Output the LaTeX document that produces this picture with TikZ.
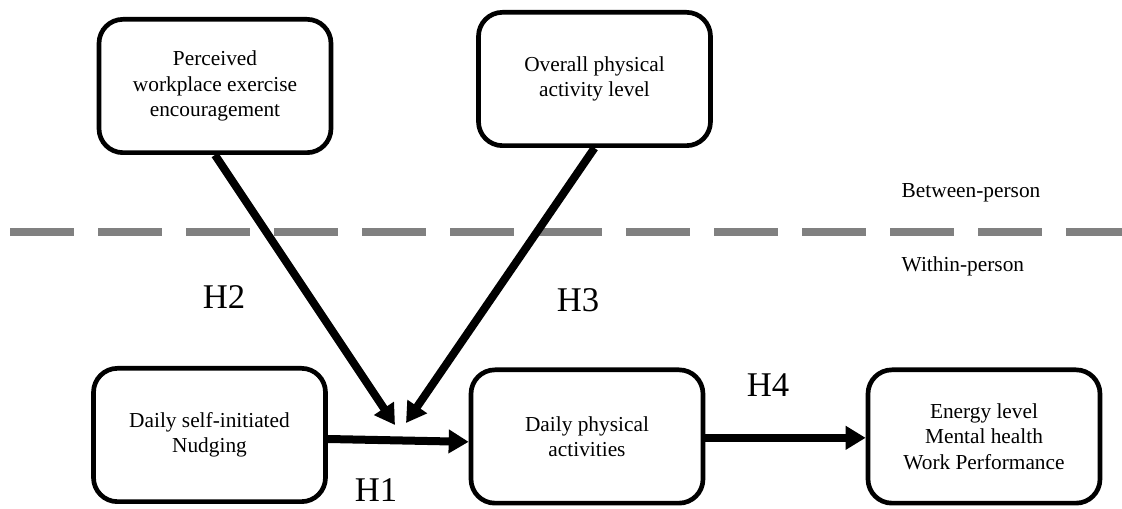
\documentclass[tikz,border=0pt]{standalone}
\usepackage{fontspec}
\setmainfont{Liberation Serif}
\usetikzlibrary{arrows.meta}

\tikzset{
    construct/.style={draw=black, line width=3.5pt, rounded corners=18pt, fill=white,
        minimum width=174pt, minimum height=100pt, align=center,
        font=\fontsize{16}{19}\selectfont},
    path/.style={line width=6pt, -{Triangle[length=15pt, width=17pt]}},
    hyp/.style={font=\fontsize{26}{30}\selectfont},
    level/.style={anchor=base west, font=\fontsize{16}{19}\selectfont},
    divider/.style={draw=black!50, line width=6pt, dash pattern=on 48pt off 18pt}
}

\begin{document}
\begin{tikzpicture}[x=0.75pt, y=-0.75pt]
    \useasboundingbox (0,0) rectangle (1122,509);

    % between / within split
    \draw [divider] (10,232) -- (1122,232);
    \node [level] (between) at (897,198) {Between-person};
    \node [level] (within) at (897,272) {Within-person};

    % constructs
    \node [construct] (perc) at (215,86) {Perceived\\workplace exercise\\encouragement};
    \node [construct] (over) at (594.5,79) {Overall physical\\activity level};
    \node [construct] (dself) at (209.5,435) {Daily self-initiated\\Nudging};
    \node [construct] (dphys) at (587,436.5) {Daily physical\\activities};
    \node [construct] (energy) at (984,436.5) {Energy level\\Mental health\\Work Performance};

    % moderation end points
    \coordinate (tip2) at (395,425);
    \coordinate (tip3) at (406,423);

    \draw [path] (perc.south) -- (tip2);
    \draw [path] (over.south) -- (tip3);
    \draw [path] ([yshift=-3pt]dself.east) -- ([yshift=-4pt]dphys.west);
    \draw [path] ([yshift=-1pt]dphys.east) -- ([yshift=-1pt]energy.west);

    % hypotheses
    \node [hyp] (h1) at (376,490) {H1};
    \node [hyp] (h2) at (224,297) {H2};
    \node [hyp] (h3) at (578,300) {H3};
    \node [hyp] (h4) at (768,385) {H4};
\end{tikzpicture}
\end{document}
